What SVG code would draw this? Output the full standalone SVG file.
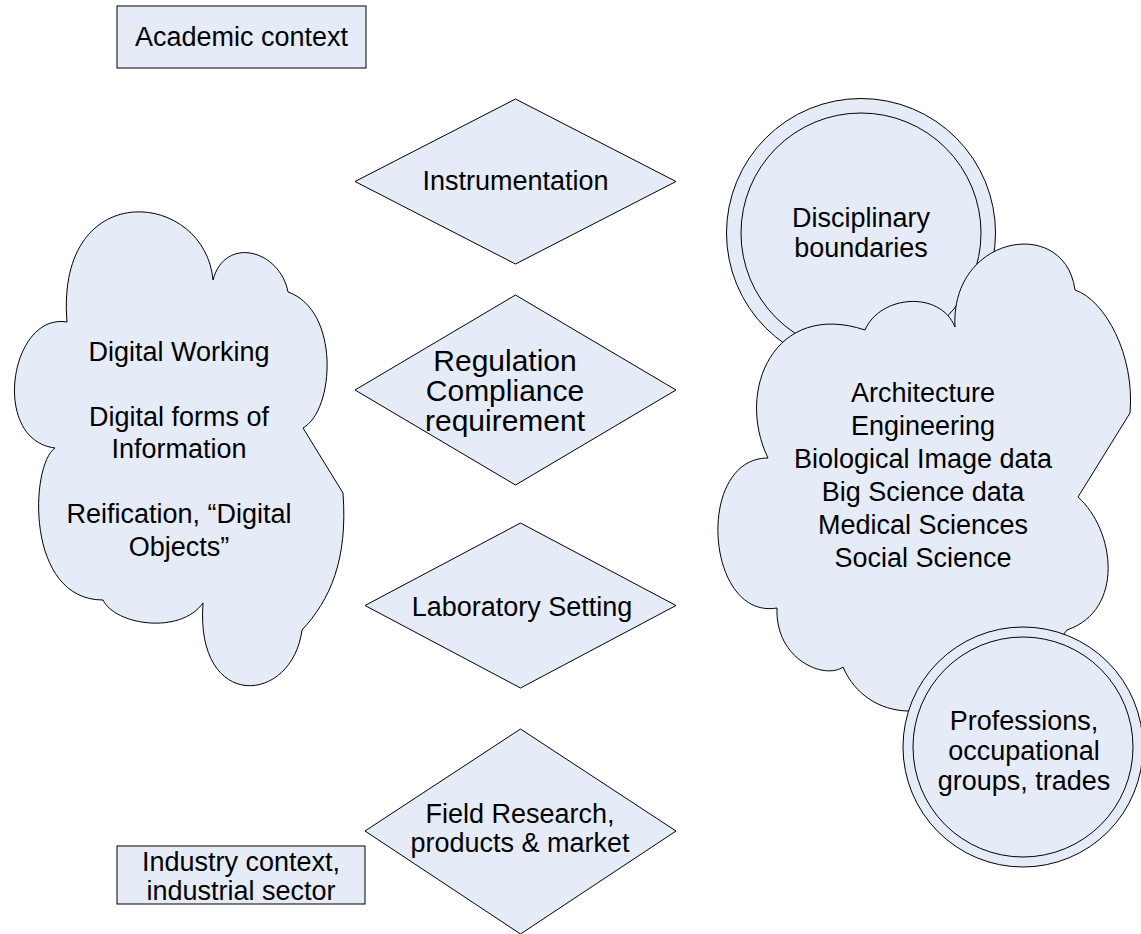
<svg xmlns="http://www.w3.org/2000/svg" width="1141" height="934" viewBox="0 0 1141 934">
<style>
.s{fill:#E6ECF7;stroke:#000;stroke-width:1}
.t{font-family:"Liberation Sans",Arial,sans-serif;font-size:27px;fill:#000;text-anchor:middle}
.b{font-size:30px}
</style>
<rect width="1141" height="934" fill="#fff"/>
<g id="academic"><rect class="s" x="117" y="6" width="249" height="62"/><text class="t" x="241.5" y="45.5">Academic context</text></g>
<g id="industry"><rect class="s" x="117" y="846" width="248" height="58"/><text class="t" x="241" y="871">Industry context,</text><text class="t" x="241" y="900">industrial sector</text></g>
<g id="instrumentation"><polygon class="s" points="515.5,99 676,181.5 515.5,264 355,181.5"/><text class="t" x="515.5" y="190">Instrumentation</text></g>
<g id="regulation"><polygon class="s" points="515.5,295 676,390 515.5,485 355,390"/><text class="t b" x="505" y="371">Regulation</text><text class="t b" x="505" y="401">Compliance</text><text class="t b" x="505" y="431">requirement</text></g>
<g id="laboratory"><polygon class="s" points="520.5,523 676,605.5 520.5,688 365,605.5"/><text class="t" x="522" y="616">Laboratory Setting</text></g>
<g id="field"><polygon class="s" points="520.5,729 676,831 520.5,934 365,831"/><text class="t" x="520" y="823">Field Research,</text><text class="t" x="520" y="852">products &amp; market</text></g>
<g id="digital-cloud"><path class="s" d="M67,322 C10,312 -10,440 55,448 C30,465 25,600 103,600 C115,625 180,635 203,603 C195,712 292,705 302,630 C330,600 348,560 343,493 L303,428 C335,410 340,310 288,292 C280,250 225,235 213,280 C205,190 55,175 67,322 Z"/><text class="t" x="179" y="361">Digital Working</text><text class="t" x="179" y="426">Digital forms of</text><text class="t" x="179" y="458">Information</text><text class="t" x="179" y="523">Reification, “Digital</text><text class="t" x="179" y="555.5">Objects”</text></g>
<g id="disciplinary"><circle class="s" cx="861" cy="233" r="134.5"/><circle class="s" cx="861" cy="233" r="120"/><text class="t" x="861" y="227">Disciplinary</text><text class="t" x="861" y="257">boundaries</text></g>
<g id="fields-cloud"><path class="s" d="M955,327 C950,235 1065,215 1075,290 C1105,300 1135,355 1130,413 L1078,497 C1115,530 1125,610 1067,630 C1030,680 960,715 907,711 C880,710 855,695 843,667 C825,680 775,660 777,608 C705,620 695,458 768,458 C735,390 775,300 865,330 C880,295 940,290 955,327 Z"/><text class="t" x="923" y="401.7">Architecture</text><text class="t" x="923" y="434.7">Engineering</text><text class="t" x="923" y="467.7">Biological Image data</text><text class="t" x="923" y="500.7">Big Science data</text><text class="t" x="923" y="533.7">Medical Sciences</text><text class="t" x="923" y="566.7">Social Science</text></g>
<g id="professions"><circle class="s" cx="1023" cy="747" r="120"/><circle class="s" cx="1023" cy="747" r="110"/><text class="t" x="1024" y="730">Professions,</text><text class="t" x="1024" y="760">occupational</text><text class="t" x="1024" y="790">groups, trades</text></g>
<g id="connectors"></g>
</svg>
